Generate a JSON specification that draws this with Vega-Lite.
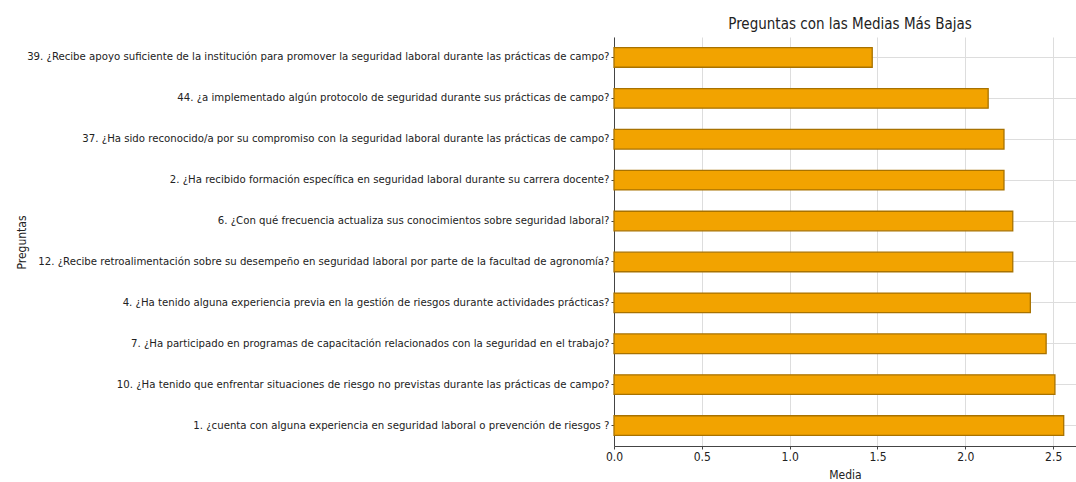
{
  "$schema": "https://vega.github.io/schema/vega-lite/v6.json",
  "autosize": "none",
  "width": 462,
  "height": 409,
  "padding": {"left": 614, "top": 37, "right": 0, "bottom": 36},
  "background": "white",
  "title": {
    "text": "Preguntas con las Medias Más Bajas",
    "font": "DejaVu Sans Condensed",
    "fontSize": 15,
    "fontWeight": "normal",
    "color": "#222222",
    "anchor": "middle",
    "dx": 5,
    "offset": 5
  },
  "data": {
    "values": [
      {"pregunta": "39. ¿Recibe apoyo suficiente de la institución para promover la seguridad laboral durante las prácticas de campo?", "media": 1.47},
      {"pregunta": "44. ¿a implementado algún protocolo de  seguridad durante sus prácticas de campo?", "media": 2.13},
      {"pregunta": "37. ¿Ha sido reconocido/a por su compromiso con la seguridad laboral durante las prácticas de campo?", "media": 2.22},
      {"pregunta": "2. ¿Ha recibido formación específica en seguridad laboral durante su carrera docente?", "media": 2.22},
      {"pregunta": "6. ¿Con qué frecuencia actualiza sus conocimientos sobre seguridad laboral?", "media": 2.27},
      {"pregunta": "12. ¿Recibe retroalimentación sobre su desempeño en seguridad laboral por parte de la facultad de agronomía?", "media": 2.27},
      {"pregunta": "4. ¿Ha tenido alguna experiencia previa en la gestión de riesgos durante actividades prácticas?", "media": 2.37},
      {"pregunta": "7. ¿Ha participado en programas de capacitación relacionados con la seguridad en el trabajo?", "media": 2.46},
      {"pregunta": "10. ¿Ha tenido que enfrentar situaciones de riesgo no previstas durante las prácticas de campo?", "media": 2.51},
      {"pregunta": "1. ¿cuenta con alguna experiencia  en seguridad laboral o prevención de riesgos ?", "media": 2.56}
    ]
  },
  "mark": {"type": "bar", "fill": "#F2A300", "stroke": "#A87200", "strokeWidth": 1.3},
  "encoding": {
    "y": {
      "field": "pregunta",
      "type": "nominal",
      "sort": null,
      "scale": {"paddingInner": 0.52, "paddingOuter": 0.26},
      "axis": {
        "title": "Preguntas",
        "titleFont": "DejaVu Sans Condensed",
        "titleFontSize": 12,
        "titleFontWeight": "normal",
        "titleColor": "#222222",
        "titleX": -586,
        "titleY": 205,
        "titleAngle": -90,
        "titleAlign": "center",
        "titleBaseline": "bottom",
        "labelFont": "DejaVu Sans Condensed",
        "labelFontSize": 11.3,
        "labelColor": "#222222",
        "labelLimit": 700,
        "labelPadding": 2,
        "grid": true,
        "gridColor": "#dddddd",
        "bandPosition": 0.5,
        "domainColor": "#444444",
        "tickColor": "#444444",
        "tickSize": 3
      }
    },
    "x": {
      "field": "media",
      "type": "quantitative",
      "scale": {"domain": [0, 2.63], "nice": false},
      "axis": {
        "title": "Media",
        "titleFont": "DejaVu Sans Condensed",
        "titleFontSize": 12,
        "titleFontWeight": "normal",
        "titleColor": "#222222",
        "titlePadding": 7,
        "labelFont": "DejaVu Sans Condensed",
        "labelFontSize": 12,
        "labelColor": "#222222",
        "values": [0, 0.5, 1, 1.5, 2, 2.5],
        "format": ".1f",
        "grid": true,
        "gridColor": "#dddddd",
        "domainColor": "#444444",
        "tickColor": "#444444",
        "tickSize": 3,
        "labelFlush": false
      }
    }
  },
  "config": {"view": {"stroke": null}}
}
